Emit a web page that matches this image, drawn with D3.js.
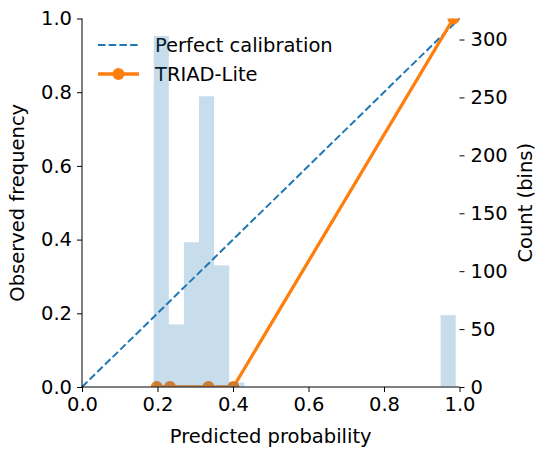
<!DOCTYPE html>
<html>
<head>
<meta charset="utf-8">
<script src="https://cdn.jsdelivr.net/npm/d3@7"></script>
<style>
  body { margin: 0; background: #fff; }
  text { font-family: "DejaVu Sans", sans-serif; fill: #000; }
</style>
</head>
<body>
<div id="chart"></div>
<script>
// calibration curve
var meanPredicted = [0.198, 0.233, 0.335, 0.401, 0.984];
var fractionPositive = [0, 0, 0, 0, 1];
// perfect calibration diagonal
var diagonal = [0, 1];
// histogram of predictions (bins)
var binLo = [0.19, 0.23, 0.27, 0.31, 0.35, 0.39, 0.95];
var binHi = [0.23, 0.27, 0.31, 0.35, 0.39, 0.43, 0.99];
var binCount = [303, 54, 125, 251, 105, 4, 62];
var xTicks = [0, 0.2, 0.4, 0.6, 0.8, 1.0];
var yTicks = [0, 0.2, 0.4, 0.6, 0.8, 1.0];
var countTicks = [0, 50, 100, 150, 200, 250, 300];

var width = 537, height = 451;
var plotLeft = 82, plotRight = 459.5, plotTop = 18.5, plotBottom = 387;
var fontSize = '19.5px';

var svg = d3.select('#chart').append('svg')
  .attr('width', width).attr('height', height);

var x = d3.scaleLinear().domain([0, 1]).range([plotLeft, plotRight]);
var y = d3.scaleLinear().domain([0, 1]).range([plotBottom, plotTop]);
var yc = d3.scaleLinear().domain([0, d3.max(binCount) * 1.05]).range([plotBottom, plotTop]);

svg.append('defs').append('clipPath').attr('id', 'plotclip')
  .append('rect').attr('x', plotLeft).attr('y', plotTop)
  .attr('width', plotRight - plotLeft).attr('height', plotBottom - plotTop);

// perfect calibration
svg.append('line')
  .attr('x1', x(diagonal[0])).attr('y1', y(diagonal[0]))
  .attr('x2', x(diagonal[1])).attr('y2', y(diagonal[1]))
  .attr('stroke', '#1f77b4').attr('stroke-width', 2)
  .attr('stroke-dasharray', '7.5,3.2');

// calibration curve
var g = svg.append('g').attr('clip-path', 'url(#plotclip)');
var pts = meanPredicted.map(function (d, i) { return [d, fractionPositive[i]]; });
g.append('path')
  .attr('d', d3.line().x(function (d) { return x(d[0]); }).y(function (d) { return y(d[1]); })(pts))
  .attr('fill', 'none').attr('stroke', '#ff7f0e').attr('stroke-width', 3.3);
g.selectAll('circle').data(pts).enter().append('circle')
  .attr('cx', function (d) { return x(d[0]); })
  .attr('cy', function (d) { return y(d[1]); })
  .attr('r', 6).attr('fill', '#ff7f0e');

// axes
var xAxis = svg.append('g').attr('transform', 'translate(0,' + plotBottom + ')')
  .call(d3.axisBottom(x).tickValues(xTicks).tickFormat(d3.format('.1f')).tickSize(5).tickPadding(5));
var yAxis = svg.append('g').attr('transform', 'translate(' + plotLeft + ',0)')
  .call(d3.axisLeft(y).tickValues(yTicks).tickFormat(d3.format('.1f')).tickSize(5).tickPadding(5));
var cAxis = svg.append('g').attr('transform', 'translate(' + plotRight + ',0)')
  .call(d3.axisRight(yc).tickValues(countTicks).tickSize(5).tickPadding(6));
cAxis.select('.domain').remove();
xAxis.select('.domain').attr('d', 'M' + plotLeft + ',0H' + plotRight);
yAxis.select('.domain').attr('d', 'M0,' + plotTop + 'V' + plotBottom);
svg.selectAll('.tick text').style('font-size', fontSize).style('font-family', 'DejaVu Sans').attr('fill', '#000');
svg.selectAll('.domain, .tick line').attr('stroke', '#000');

// axis labels
svg.append('text').attr('x', (plotLeft + plotRight) / 2).attr('y', 443)
  .attr('text-anchor', 'middle').style('font-size', fontSize).text('Predicted probability');
svg.append('text').attr('transform', 'translate(24,' + ((plotTop + plotBottom) / 2) + ') rotate(-90)')
  .attr('text-anchor', 'middle').style('font-size', fontSize).text('Observed frequency');
svg.append('text').attr('transform', 'translate(532,' + ((plotTop + plotBottom) / 2) + ') rotate(-90)')
  .attr('text-anchor', 'middle').style('font-size', fontSize).text('Count (bins)');

// legend
var lg = svg.append('g');
lg.append('line').attr('x1', 98).attr('x2', 139).attr('y1', 45).attr('y2', 45)
  .attr('stroke', '#1f77b4').attr('stroke-width', 2).attr('stroke-dasharray', '7.5,3.2');
lg.append('text').attr('x', 155).attr('y', 45).attr('dy', '0.36em')
  .style('font-size', fontSize).text('Perfect calibration');
lg.append('line').attr('x1', 98).attr('x2', 139).attr('y1', 74).attr('y2', 74)
  .attr('stroke', '#ff7f0e').attr('stroke-width', 3.3);
lg.append('circle').attr('cx', 118.5).attr('cy', 74).attr('r', 6).attr('fill', '#ff7f0e');
lg.append('text').attr('x', 155).attr('y', 74).attr('dy', '0.36em')
  .style('font-size', fontSize).text('TRIAD-Lite');

// histogram on twin axis, drawn on top
svg.append('g').selectAll('rect').data(binCount).enter().append('rect')
  .attr('x', function (d, i) { return x(binLo[i]); })
  .attr('width', function (d, i) { return x(binHi[i]) - x(binLo[i]); })
  .attr('y', function (d) { return yc(d); })
  .attr('height', function (d) { return plotBottom - yc(d); })
  .attr('fill', '#1f77b4').attr('fill-opacity', 0.25);
</script>
</body>
</html>
